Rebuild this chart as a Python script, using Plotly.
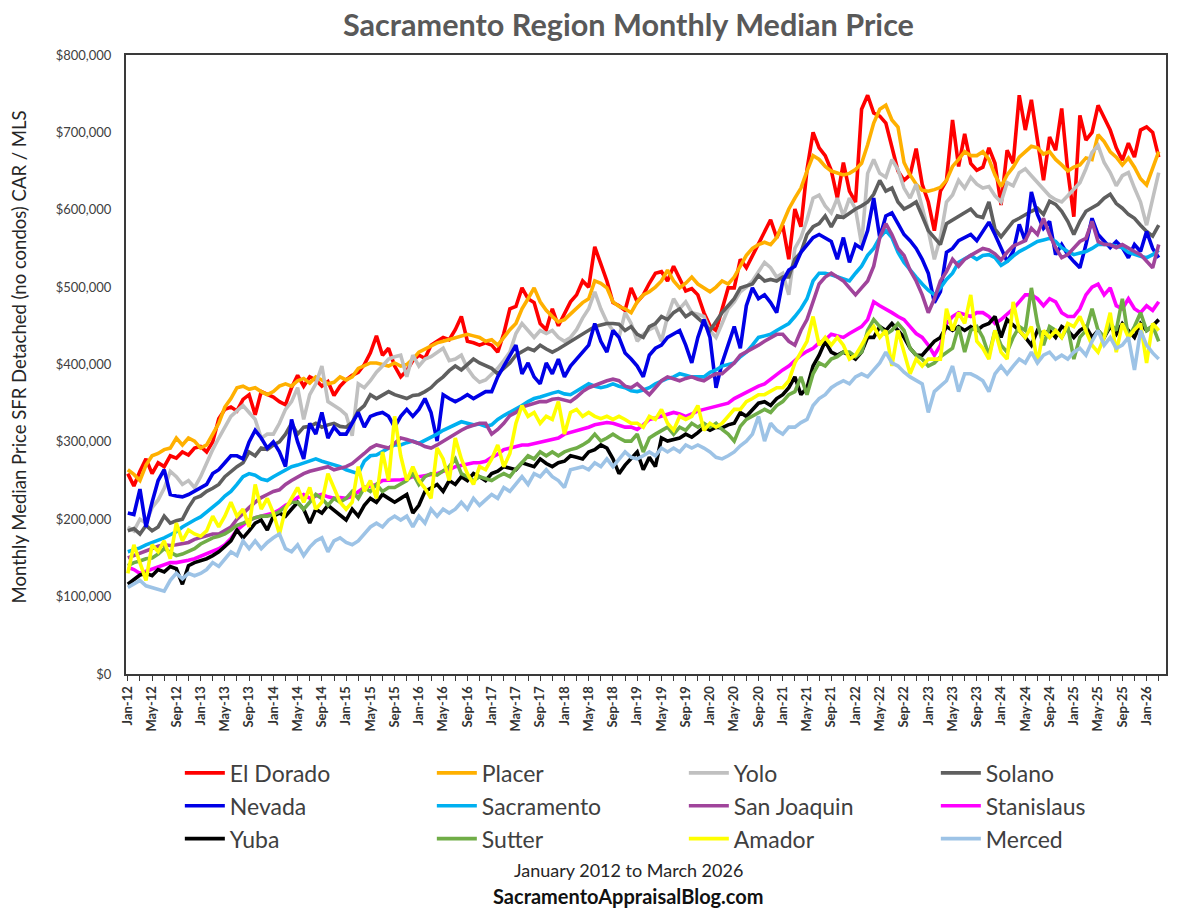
import plotly.graph_objects as go

# ---- categories (monthly, Jan 2012 .. Mar 2026) ----
month_names = ["Jan", "Feb", "Mar", "Apr", "May", "Jun", "Jul", "Aug", "Sep", "Oct", "Nov", "Dec"]
months = [f"{m}-{y:02d}" for y in range(12, 27) for m in month_names][:171]
month_index = list(range(len(months)))
tick_idx = list(range(0, 171, 4))
tick_labels = [months[i] for i in tick_idx]

# ---- series values (thousands of dollars) ----
el_dorado = [
    259, 243, 262, 278, 259, 273, 268, 282, 279, 287, 283, 292,
    294, 287, 300, 330, 342, 345, 340, 355, 361, 335, 365, 362,
    358, 352, 348, 370, 386, 372, 384, 380, 372, 378, 360, 372,
    380, 386, 390, 400, 415, 437, 412, 421, 398, 384, 392, 405,
    412, 408, 425, 430, 435, 432, 445, 462, 430, 428, 425, 428,
    425, 416, 440, 472, 475, 499, 485, 480, 453, 445, 472, 450,
    465, 481, 490, 508, 500, 552, 530, 508, 480, 476, 470, 499,
    481, 490, 505, 518, 520, 508, 527, 510, 495, 498, 490, 467,
    450, 444, 470, 499, 499, 536, 525, 541, 555, 573, 587, 564,
    580, 536, 601, 578, 652, 700, 680, 670, 651, 615, 661, 624,
    610, 730, 748, 725, 721, 712, 680, 650, 638, 645, 679, 633,
    610, 573, 624, 638, 716, 656, 698, 660, 651, 655, 680, 660,
    606, 677, 660, 748, 703, 742, 690, 638, 694, 677, 731, 650,
    591, 722, 690, 700, 735, 718, 703, 680, 664, 686, 668, 703,
    707, 700, 668]
placer = [
    264, 258, 250, 270, 282, 285, 290, 292, 305, 296, 305, 301,
    292, 296, 310, 324, 345, 356, 370, 372, 368, 370, 365, 361,
    365, 372, 375, 372, 379, 382, 376, 384, 380, 375, 377, 384,
    380, 384, 395, 398, 402, 402, 400, 398, 402, 398, 400, 407,
    416, 420, 425, 428, 430, 432, 435, 437, 439, 437, 435, 430,
    432, 425, 435, 445, 453, 472, 485, 499, 481, 470, 462, 455,
    458, 465, 472, 480, 485, 508, 505, 499, 481, 475, 472, 467,
    481, 490, 494, 500, 508, 522, 508, 499, 505, 513, 504, 499,
    494, 500, 508, 504, 513, 527, 541, 550, 555, 558, 555, 564,
    582, 601, 615, 628, 650, 670, 665, 656, 650, 647, 645, 647,
    652, 660, 684, 712, 730, 735, 716, 707, 661, 645, 633, 625,
    624, 626, 629, 638, 656, 665, 675, 670, 670, 675, 665, 645,
    630, 645, 655, 668, 675, 682, 680, 672, 675, 665, 658, 650,
    655, 658, 667, 665, 697, 688, 675, 668, 658, 667, 655, 640,
    632, 655, 675]
yolo = [
    190, 185, 200, 195, 215, 225, 240, 262, 255, 245, 250, 241,
    255, 273, 290, 305, 320, 333, 340, 347, 338, 329, 305, 310,
    310, 324, 342, 352, 370, 329, 361, 375, 398, 352, 347, 342,
    335, 308, 375, 370, 379, 390, 398, 407, 410, 412, 384, 412,
    398, 407, 410, 416, 421, 405, 407, 412, 395, 384, 377, 380,
    388, 395, 405, 416, 440, 453, 444, 435, 444, 440, 444, 435,
    430, 435, 445, 460, 472, 494, 472, 455, 444, 435, 467, 453,
    430, 439, 445, 449, 430, 462, 485, 472, 481, 467, 465, 462,
    444, 435, 453, 472, 481, 494, 500, 508, 520, 532, 525, 513,
    518, 490, 550, 564, 587, 615, 619, 605, 596, 615, 592, 615,
    601, 555, 647, 665, 647, 642, 665, 652, 628, 615, 633, 601,
    573, 536, 564, 610, 619, 638, 628, 642, 633, 628, 630, 618,
    610, 635, 631, 648, 653, 644, 635, 627, 618, 613, 610, 618,
    627, 635, 653, 674, 683, 661, 648, 631, 644, 648, 628, 610,
    580, 613, 648]
solano = [
    185, 188, 181, 192, 185, 190, 204, 195, 198, 200, 215, 227,
    230, 236, 240, 245, 255, 262, 268, 273, 287, 282, 292, 290,
    296, 300, 310, 324, 310, 319, 320, 324, 319, 322, 324, 320,
    319, 325, 340, 347, 361, 356, 360, 365, 361, 358, 356, 360,
    361, 365, 370, 378, 384, 392, 398, 393, 400, 407, 402, 398,
    395, 388, 395, 402, 412, 416, 421, 418, 425, 420, 416, 420,
    425, 430, 435, 440, 444, 449, 451, 453, 453, 452, 444, 449,
    439, 435, 449, 453, 462, 458, 467, 472, 462, 467, 460, 453,
    444, 455, 467, 476, 485, 499, 502, 504, 515, 508, 510, 508,
    513, 513, 536, 545, 568, 578, 582, 592, 578, 592, 590, 596,
    601, 605, 610, 620, 638, 624, 628, 610, 601, 605, 610, 592,
    573, 564, 555, 582, 587, 592, 596, 601, 592, 590, 610, 575,
    565, 576, 585, 589, 594, 598, 602, 594, 611, 607, 598, 585,
    568, 585, 598, 602, 607, 615, 620, 608, 602, 594, 589, 580,
    572, 566, 580]
nevada = [
    208, 206, 239, 190, 222, 250, 264, 232, 230, 229, 232, 236,
    240, 245, 259, 264, 273, 282, 282, 278, 300, 315, 305, 292,
    300, 287, 268, 329, 300, 278, 324, 310, 338, 305, 319, 310,
    310, 325, 338, 319, 333, 336, 338, 333, 319, 333, 342, 333,
    342, 356, 338, 301, 361, 356, 352, 356, 361, 356, 361, 365,
    365, 384, 398, 412, 425, 388, 402, 384, 375, 402, 388, 407,
    384, 398, 407, 416, 425, 453, 430, 416, 444, 435, 415, 407,
    398, 384, 412, 421, 425, 435, 440, 444, 425, 402, 435, 458,
    435, 370, 402, 425, 449, 421, 476, 499, 485, 490, 480, 467,
    508, 522, 527, 545, 555, 564, 568, 564, 559, 536, 564, 532,
    555, 550, 573, 615, 564, 592, 596, 582, 568, 560, 550, 536,
    518, 480, 494, 545, 550, 560, 564, 568, 560, 571, 584, 568,
    551, 533, 546, 581, 559, 623, 594, 576, 585, 542, 555, 542,
    533, 525, 555, 589, 568, 560, 551, 559, 551, 538, 555, 546,
    572, 550, 538]
sacramento = [
    158, 160, 163, 167, 170, 172, 176, 180, 184, 190, 195, 199,
    203, 209, 215, 222, 230, 236, 245, 255, 259, 257, 252, 250,
    255, 259, 264, 268, 270, 273, 276, 278, 275, 273, 270, 268,
    264, 262, 259, 275, 282, 283, 288, 292, 296, 296, 299, 301,
    298, 302, 305, 310, 315, 319, 322, 326, 324, 322, 323, 320,
    322, 329, 334, 338, 343, 347, 352, 356, 358, 361, 363, 365,
    362, 361, 366, 370, 375, 372, 370, 372, 375, 372, 370, 366,
    365, 367, 370, 375, 379, 382, 384, 388, 386, 384, 384, 384,
    390, 393, 398, 400, 402, 410, 416, 425, 435, 437, 439, 444,
    448, 453, 462, 472, 485, 508, 518, 518, 516, 513, 510, 508,
    518, 527, 541, 550, 564, 573, 564, 545, 532, 522, 513, 504,
    496, 490, 499, 510, 518, 532, 536, 541, 536, 541, 542, 538,
    528, 533, 540, 546, 550, 555, 559, 561, 563, 559, 551, 546,
    542, 544, 546, 550, 555, 555, 555, 553, 551, 545, 542, 540,
    538, 542, 548]
san_joaquin = [
    150, 153, 156, 160, 162, 165, 167, 166, 167, 168, 170, 174,
    176, 179, 181, 181, 185, 190, 200, 208, 215, 222, 228, 232,
    236, 238, 245, 250, 255, 259, 262, 264, 266, 268, 264, 266,
    268, 272, 278, 285, 292, 296, 294, 292, 298, 305, 303, 301,
    298, 294, 292, 296, 301, 305, 310, 315, 319, 322, 324, 324,
    310, 316, 324, 334, 338, 345, 347, 350, 352, 352, 355, 356,
    354, 352, 358, 365, 370, 373, 377, 379, 381, 379, 372, 370,
    375, 368, 361, 370, 379, 384, 382, 379, 382, 384, 381, 379,
    384, 388, 388, 395, 402, 412, 416, 421, 425, 430, 435, 439,
    439, 430, 425, 444, 458, 481, 504, 513, 518, 513, 508, 499,
    490, 499, 508, 527, 564, 582, 568, 550, 541, 522, 508, 490,
    467, 485, 508, 520, 536, 527, 536, 541, 545, 550, 548, 543,
    535, 545, 553, 556, 560, 576, 568, 589, 568, 551, 538, 542,
    551, 559, 563, 585, 559, 555, 555, 551, 555, 550, 546, 542,
    533, 525, 555]
stanislaus = [
    138, 135, 130, 133, 135, 138, 142, 144, 144, 145, 147, 149,
    152, 155, 158, 162, 167, 175, 186, 192, 199, 202, 204, 206,
    208, 212, 218, 222, 228, 232, 227, 230, 232, 229, 227, 228,
    227, 230, 236, 241, 243, 245, 250, 250, 250, 251, 252, 255,
    255, 256, 258, 259, 262, 264, 268, 270, 272, 273, 273, 275,
    280, 284, 290, 292, 295, 296, 296, 298, 300, 301, 303, 305,
    310, 312, 315, 317, 319, 322, 324, 325, 324, 322, 319, 319,
    316, 322, 329, 331, 333, 335, 338, 336, 333, 336, 340, 342,
    344, 346, 347, 350, 356, 360, 365, 368, 372, 375, 381, 388,
    393, 398, 405, 412, 417, 421, 428, 432, 439, 437, 435, 440,
    444, 449, 458, 481, 476, 472, 467, 462, 458, 449, 440, 435,
    425, 412, 425, 453, 462, 467, 464, 462, 467, 467, 462, 453,
    458, 465, 472, 481, 490, 490, 485, 476, 485, 481, 467, 462,
    462, 472, 490, 500, 504, 490, 499, 476, 472, 485, 472, 467,
    476, 470, 481]
yuba = [
    116, 122, 128, 130, 127, 135, 132, 139, 136, 116, 140, 144,
    146, 149, 153, 158, 165, 172, 186, 176, 185, 195, 199, 186,
    204, 208, 204, 213, 222, 213, 195, 213, 208, 218, 212, 205,
    199, 213, 204, 218, 227, 222, 232, 227, 222, 227, 232, 208,
    218, 236, 240, 245, 236, 250, 245, 255, 250, 259, 255, 250,
    259, 262, 268, 266, 264, 273, 270, 268, 278, 272, 268, 273,
    275, 282, 280, 278, 287, 290, 296, 292, 278, 259, 270, 278,
    287, 264, 280, 268, 305, 301, 303, 305, 310, 306, 312, 319,
    315, 319, 318, 322, 324, 338, 333, 342, 350, 352, 347, 356,
    361, 370, 384, 361, 370, 398, 412, 430, 416, 412, 416, 412,
    407, 416, 435, 435, 449, 444, 453, 444, 435, 421, 412, 412,
    421, 430, 435, 449, 444, 449, 444, 449, 444, 450, 453, 462,
    435, 458, 451, 444, 435, 425, 444, 439, 444, 435, 449, 444,
    435, 444, 449, 435, 444, 435, 449, 439, 453, 444, 435, 453,
    444, 450, 458]
sutter = [
    140, 144, 146, 149, 150, 155, 162, 158, 153, 155, 158, 162,
    168, 172, 176, 178, 181, 186, 192, 195, 199, 202, 204, 204,
    206, 210, 216, 222, 222, 213, 222, 232, 227, 218, 227, 222,
    227, 236, 227, 241, 236, 245, 236, 241, 241, 245, 250, 259,
    245, 255, 259, 257, 262, 268, 278, 259, 255, 250, 255, 252,
    250, 255, 259, 255, 265, 273, 282, 278, 287, 282, 287, 282,
    287, 290, 292, 296, 301, 310, 301, 305, 310, 305, 301, 301,
    310, 287, 305, 310, 315, 319, 310, 319, 315, 324, 319, 324,
    319, 324, 316, 310, 301, 320, 329, 333, 338, 342, 338, 347,
    352, 361, 365, 384, 361, 388, 402, 398, 407, 410, 416, 416,
    410, 416, 444, 458, 449, 439, 444, 453, 444, 421, 412, 407,
    398, 402, 410, 416, 421, 449, 416, 444, 449, 435, 412, 444,
    425, 416, 435, 449, 444, 499, 453, 425, 449, 444, 435, 449,
    407, 435, 444, 472, 444, 435, 453, 444, 485, 435, 449, 467,
    444, 450, 430]
amador = [
    130, 167, 144, 121, 167, 158, 172, 149, 195, 172, 186, 181,
    178, 185, 204, 190, 204, 222, 204, 213, 190, 245, 213, 227,
    208, 181, 213, 227, 241, 222, 241, 213, 222, 259, 241, 222,
    213, 222, 268, 236, 250, 227, 287, 250, 333, 282, 250, 268,
    250, 240, 227, 292, 278, 250, 305, 278, 259, 245, 268, 264,
    278, 296, 268, 285, 324, 347, 333, 338, 324, 333, 329, 352,
    310, 338, 342, 333, 338, 333, 330, 333, 329, 333, 329, 324,
    324, 319, 333, 329, 342, 324, 315, 333, 329, 333, 347, 315,
    324, 319, 324, 333, 342, 342, 352, 356, 361, 361, 365, 370,
    370, 379, 402, 416, 430, 462, 425, 435, 425, 435, 425, 407,
    412, 425, 439, 449, 435, 444, 398, 444, 416, 388, 407, 398,
    407, 407, 407, 472, 444, 467, 453, 490, 430, 421, 407, 444,
    416, 407, 481, 444, 435, 449, 402, 444, 435, 444, 435, 453,
    449, 462, 444, 425, 416, 435, 467, 416, 453, 435, 445, 453,
    402, 453, 444]
merced = [
    112, 116, 121, 114, 112, 110, 107, 121, 130, 123, 130, 127,
    130, 135, 144, 139, 149, 158, 153, 172, 162, 172, 162, 170,
    176, 181, 162, 158, 167, 153, 164, 172, 176, 158, 172, 176,
    170, 167, 172, 181, 190, 195, 190, 199, 204, 199, 204, 190,
    204, 195, 213, 204, 213, 208, 213, 222, 213, 227, 218, 225,
    232, 227, 241, 236, 245, 255, 245, 259, 255, 264, 255, 250,
    241, 264, 266, 268, 264, 273, 268, 278, 268, 278, 287, 280,
    278, 282, 287, 282, 292, 287, 292, 287, 296, 292, 296, 292,
    287, 280, 278, 282, 287, 295, 301, 310, 333, 301, 324, 315,
    310, 319, 319, 325, 329, 347, 356, 361, 370, 375, 379, 375,
    384, 388, 384, 393, 402, 416, 402, 398, 390, 384, 379, 375,
    338, 365, 372, 379, 398, 365, 388, 388, 384, 379, 365, 388,
    398, 388, 398, 407, 402, 416, 402, 412, 416, 407, 412, 407,
    416, 421, 412, 430, 444, 425, 435, 421, 425, 435, 393, 444,
    425, 415, 407]

series_names = ["El Dorado", "Placer", "Yolo", "Solano", "Nevada", "Sacramento",
                "San Joaquin", "Stanislaus", "Yuba", "Sutter", "Amador", "Merced"]
series_values = [el_dorado, placer, yolo, solano, nevada, sacramento,
                 san_joaquin, stanislaus, yuba, sutter, amador, merced]
series_colors = ["#FF0000", "#FFB000", "#C0C0C0", "#5F5F5F", "#0000E6", "#00B0F0",
                 "#A0449B", "#FF00FF", "#000000", "#70AD47", "#FFFF00", "#9DC3E6"]

y_tick_vals = [0, 100000, 200000, 300000, 400000, 500000, 600000, 700000, 800000]
y_tick_text = ["$0", "$100,000", "$200,000", "$300,000", "$400,000",
               "$500,000", "$600,000", "$700,000", "$800,000"]

fig = go.Figure()
for name, vals, col in zip(series_names, series_values, series_colors):
    fig.add_trace(go.Scatter(
        x=month_index, y=[v * 1000 for v in vals], name=name, mode="lines",
        line=dict(color=col, width=3.6), hoverinfo="skip"))

axis_col = "#3A3A3A"
fig.update_layout(
    width=1200, height=915,
    margin=dict(l=126, r=24, t=55, b=241),
    paper_bgcolor="white", plot_bgcolor="white",
    font=dict(family="Lato, 'Open Sans', sans-serif", color="#404040"),
    xaxis=dict(
        range=[-0.3, 171.2], showgrid=False, zeroline=False,
        showline=True, linecolor=axis_col, linewidth=2, mirror=True,
        tickmode="array", tickvals=tick_idx, ticktext=tick_labels,
        tickangle=-90, ticks="outside", ticklen=5, tickcolor=axis_col,
        tickfont=dict(family="Lato", size=13, color="#333333", weight="bold"),
        minor=dict(ticks="outside", ticklen=5, tickcolor=axis_col, tick0=0, dtick=2),
    ),
    yaxis=dict(
        range=[0, 800000], showgrid=False, zeroline=False,
        showline=True, linecolor=axis_col, linewidth=2, mirror=True,
        tickmode="array", tickvals=y_tick_vals, ticktext=y_tick_text,
        ticks="", ticklabelstandoff=10,
        tickfont=dict(family="Lato", size=13, color="#404040"),
    ),
    legend=dict(
        orientation="h", x=1.021, y=-0.125, xanchor="right", yanchor="top",
        font=dict(family="Lato", size=23, color="#404040"),
        entrywidth=197, itemwidth=40, tracegroupgap=0,
        bgcolor="rgba(0,0,0,0)",
    ),
    showlegend=True,
)

annotations = [
    dict(text="Sacramento Region Monthly Median Price", x=0.483, y=1.049,
         xref="paper", yref="paper", xanchor="center", yanchor="middle",
         showarrow=False, font=dict(family="Lato", size=30.6, color="#595959", weight="bold")),
    dict(text="Monthly Median Price SFR Detached (no condos) CAR / MLS", x=-0.1029, y=0.513,
         xref="paper", yref="paper", xanchor="center", yanchor="middle", textangle=-90,
         showarrow=False, font=dict(family="Lato", size=18.5, color="#262626")),
    dict(text="January 2012 to March 2026", x=0.483, y=-0.317,
         xref="paper", yref="paper", xanchor="center", yanchor="middle",
         showarrow=False, font=dict(family="Lato", size=18, color="#262626")),
    dict(text="<b>SacramentoAppraisalBlog.com</b>", x=0.483, y=-0.359,
         xref="paper", yref="paper", xanchor="center", yanchor="middle",
         showarrow=False, font=dict(family="Lato", size=20, color="#111111")),
]
fig.update_layout(annotations=annotations)

fig.write_html("out.html")
